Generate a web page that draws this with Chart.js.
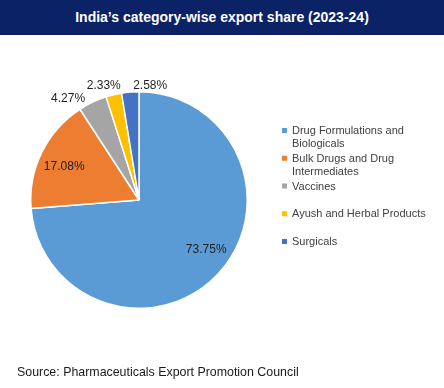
<!DOCTYPE html>
<html>
<head>
<meta charset="utf-8">
<script src="https://cdn.jsdelivr.net/npm/chart.js@4"></script>
<style>
  html, body { margin: 0; padding: 0; background: #fff; }
  #wrap { position: relative; width: 444px; height: 388px; overflow: hidden; }
  #title {
    position: absolute; left: 0; top: 0; width: 444px; height: 35px;
    background: #0c2266; color: #fff;
    font: bold 14px "Liberation Sans", Arial, sans-serif;
    line-height: 35px; text-align: center;
  }
  #chart { position: absolute; left: 0; top: 0; }
  #source {
    position: absolute; left: 17px; top: 365px;
    font: 12.4px "Liberation Sans", Arial, sans-serif; color: #1a1a1a;
  }
</style>
</head>
<body>
<div id="wrap">
  <canvas id="chart" width="444" height="388"></canvas>
  <div id="title">India’s category-wise export share (2023-24)</div>
  <div id="source">Source: Pharmaceuticals Export Promotion Council</div>
</div>
<script>
// ===== Data =====
const categories = [
  'Drug Formulations and Biologicals',
  'Bulk Drugs and Drug Intermediates',
  'Vaccines',
  'Ayush and Herbal Products',
  'Surgicals',
];
const shares = [73.75, 17.08, 4.27, 2.33, 2.58];
const valueLabels = ['73.75%', '17.08%', '4.27%', '2.33%', '2.58%'];

// ===== Styles =====
const COLORS = ['#5b9bd5', '#ed7d31', '#a5a5a5', '#ffc000', '#4472c4'];
const FONT = '"Liberation Sans", Arial, sans-serif';
// label placement: radius factor, alignment, nudge
const LABEL_POS = [
  { r: 0.77, align: 'center', dx: 6,  dy: -7 },
  { r: 0.77, align: 'center', dx: 0,  dy: 4 },
  { r: 1.12, align: 'right',  dx: -2, dy: 8 },
  { r: 1.12, align: 'right',  dx: 10, dy: 4 },
  { r: 1.12, align: 'left',   dx: 4,  dy: 7 },
];

const valueLabelPlugin = {
  id: 'valueLabels',
  afterDatasetsDraw(chart) {
    const ctx = chart.ctx;
    const arcs = chart.getDatasetMeta(0).data;
    ctx.save();
    ctx.font = '12px ' + FONT;
    ctx.fillStyle = '#1f1f1f';
    ctx.textBaseline = 'middle';
    arcs.forEach((arc, i) => {
      const mid = (arc.startAngle + arc.endAngle) / 2;
      const p = LABEL_POS[i];
      const r = arc.outerRadius * p.r;
      ctx.textAlign = p.align;
      ctx.fillText(valueLabels[i],
        arc.x + Math.cos(mid) * r + p.dx,
        arc.y + Math.sin(mid) * r + p.dy);
    });
    ctx.restore();
  }
};

const legendPlugin = {
  id: 'sideLegend',
  afterDraw(chart) {
    const ctx = chart.ctx;
    ctx.save();
    ctx.font = '11px ' + FONT;
    ctx.textBaseline = 'middle';
    ctx.textAlign = 'left';
    categories.forEach((name, i) => {
      const y0 = 131 + i * 27.75;
      ctx.fillStyle = COLORS[i];
      ctx.fillRect(282, y0 - 3, 5, 5);
      ctx.fillStyle = '#404040';
      // wrap long names
      const words = name.split(' ');
      const lines = [];
      let cur = '';
      words.forEach(w => {
        const test = cur ? cur + ' ' + w : w;
        if (ctx.measureText(test).width > 140 && cur) { lines.push(cur); cur = w; }
        else cur = test;
      });
      lines.push(cur);
      lines.forEach((ln, j) => ctx.fillText(ln, 292, y0 + j * 13));
    });
    ctx.restore();
  }
};

new Chart(document.getElementById('chart'), {
  type: 'pie',
  data: {
    labels: categories,
    datasets: [{
      data: shares,
      backgroundColor: COLORS,
      borderColor: '#ffffff',
      borderWidth: 1.5,
    }],
  },
  options: {
    responsive: false,
    animation: false,
    layout: { padding: { left: 30, right: 196, top: 91, bottom: 79 } },
    plugins: {
      legend: { display: false },
      tooltip: { enabled: false },
    },
  },
  plugins: [valueLabelPlugin, legendPlugin],
});
</script>
</body>
</html>
